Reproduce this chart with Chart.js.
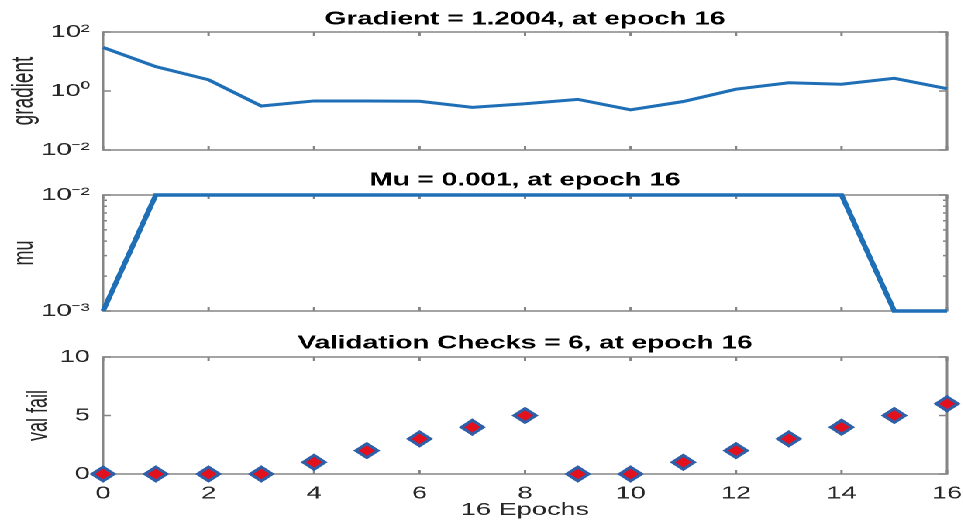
<!DOCTYPE html>
<html><head><meta charset="utf-8">
<script src="https://cdn.jsdelivr.net/npm/chart.js@4.4.1/dist/chart.umd.min.js"></script>
<style>
html,body{margin:0;padding:0;background:#fff;overflow:hidden;width:963px;height:531px;}
#stage{position:absolute;left:0;top:0;width:621.29px;height:531px;transform:scaleX(1.55);transform-origin:0 0;}
.box{position:absolute;left:0;width:621.29px;}
</style></head><body>
<div id="stage">
 <div class="box" style="top:0;height:170px"><canvas id="c1"></canvas></div>
 <div class="box" style="top:170px;height:160px"><canvas id="c2"></canvas></div>
 <div class="box" style="top:330px;height:201px"><canvas id="c3"></canvas></div>
</div>
<script>
// ---- data ----
const epochs = [0,1,2,3,4,5,6,7,8,9,10,11,12,13,14,15,16];
const gradient = [30, 6.7, 2.4, 0.31, 0.46, 0.46, 0.45, 0.28, 0.37, 0.52, 0.23, 0.44, 1.15, 1.9, 1.7, 2.7, 1.2004];
const mu = [0.001, 0.01, 0.01, 0.01, 0.01, 0.01, 0.01, 0.01, 0.01, 0.01, 0.01, 0.01, 0.01, 0.01, 0.01, 0.001, 0.001];
const valFail = [0,0,0,0,1,2,3,4,5,0,0,1,2,3,4,5,6];
const xTickValues = [0,2,4,6,8,10,12,14,16];
const gradientTicks = [0.01, 1, 100];
const muTicks = [0.001, 0.01];
const muMinorTicks = [0.002,0.003,0.004,0.005,0.006,0.007,0.008,0.009];
const valFailTicks = [0, 5, 10];
const titleGradient = 'Gradient = 1.2004, at epoch 16';
const titleMu = 'Mu = 0.001, at epoch 16';
const titleVal = 'Validation Checks = 6, at epoch 16';
const xTitle = '16 Epochs';

// ---- styling ----
const FAM = "'Liberation Sans', Arial, Helvetica, sans-serif";
const TXT = '#262626';
const BLUE = '#1f6fb6';
const PLOT_LEFT = 66.5;
const PAD_RIGHT = 10.3;

const SUP = {'0':'\u2070','1':'\u00B9','2':'\u00B2','3':'\u00B3','4':'\u2074','5':'\u2075','6':'\u2076','7':'\u2077','8':'\u2078','9':'\u2079','-':'\u207B'};
function supLabel(v){
  const e = String(Math.round(Math.log10(v)));
  return '10' + e.split('').map(c => SUP[c]).join('');
}
function pts(ys){ return epochs.map((e,i)=>({x:e, y:ys[i]})); }

const matlabBox = {
  id: 'matlabBox',
  beforeDatasetsDraw(chart, args, o) {
    const {ctx, chartArea: a} = chart;
    const x = chart.scales.x, y = chart.scales.y;
    ctx.save();
    ctx.strokeStyle = '#858585';
    ctx.lineWidth = 1.5;
    ctx.strokeRect(a.left, a.top, a.right - a.left, a.bottom - a.top);
    ctx.beginPath();
    for (const v of xTickValues) {
      const px = x.getPixelForValue(v);
      ctx.moveTo(px, a.top); ctx.lineTo(px, a.top + 4);
      ctx.moveTo(px, a.bottom); ctx.lineTo(px, a.bottom - 4);
    }
    for (const v of (o.yTicks || [])) {
      const py = y.getPixelForValue(v);
      ctx.moveTo(a.left, py); ctx.lineTo(a.left + 5, py);
      ctx.moveTo(a.right, py); ctx.lineTo(a.right - 5, py);
    }
    for (const v of (o.yMinor || [])) {
      const py = y.getPixelForValue(v);
      ctx.moveTo(a.left, py); ctx.lineTo(a.left + 2.5, py);
      ctx.moveTo(a.right, py); ctx.lineTo(a.right - 2.5, py);
    }
    ctx.stroke();
    ctx.restore();
  }
};

function yScale(base, ticks, labelFn, title, titlePad, titleSize) {
  return Object.assign({
    afterBuildTicks: s => { s.ticks = ticks.map(v => ({value: v})); },
    afterFit: s => { s.width = PLOT_LEFT; },
    grid: {display: false, drawTicks: false},
    border: {display: false},
    ticks: {padding: 8.5, color: TXT, autoSkip: false, font: {family: FAM, size: 17.5}, callback: labelFn},
    title: {display: true, text: title, color: TXT, font: {family: FAM, size: titleSize, lineHeight: 1.2}, padding: {top: titlePad, bottom: 0}}
  }, base);
}
function titleOpt(text, pt, pb) {
  return {display: true, text: text, fullSize: false, color: '#000',
    font: {family: FAM, size: 18, weight: 'bold', lineHeight: 1}, padding: {top: pt, bottom: pb}};
}
const common = {
  responsive: true, maintainAspectRatio: false, animation: false, devicePixelRatio: 2,
  events: []
};

new Chart(document.getElementById('c1'), {
  type: 'line',
  data: {datasets: [{data: pts(gradient), borderColor: BLUE, borderWidth: 3, pointRadius: 0, tension: 0, clip: false}]},
  options: Object.assign({}, common, {
    layout: {padding: {left: 0, right: PAD_RIGHT, top: 0, bottom: 20}},
    plugins: {legend: {display: false}, tooltip: {enabled: false},
      title: titleOpt(titleGradient, 10.3, 3.7),
      matlabBox: {yTicks: gradientTicks}},
    scales: {
      x: {type: 'linear', min: 0, max: 16, display: false},
      y: yScale({type: 'logarithmic', min: 0.01, max: 100}, gradientTicks, v => supLabel(v), 'gradient', 4.6, 19)
    }
  }),
  plugins: [matlabBox]
});

new Chart(document.getElementById('c2'), {
  type: 'line',
  data: {datasets: [{data: pts(mu), borderColor: BLUE, borderWidth: 3.5, pointRadius: 0, tension: 0, clip: false}]},
  options: Object.assign({}, common, {
    layout: {padding: {left: 0, right: PAD_RIGHT, top: 0, bottom: 19}},
    plugins: {legend: {display: false}, tooltip: {enabled: false},
      title: titleOpt(titleMu, 1.5, 5.5),
      matlabBox: {yTicks: muTicks, yMinor: muMinorTicks}},
    scales: {
      x: {type: 'linear', min: 0, max: 16, display: false},
      y: yScale({type: 'logarithmic', min: 0.001, max: 0.01}, muTicks, v => supLabel(v), 'mu', 5, 18)
    }
  }),
  plugins: [matlabBox]
});

new Chart(document.getElementById('c3'), {
  type: 'line',
  data: {datasets: [{data: pts(valFail), showLine: false, pointStyle: 'rectRot', pointRadius: 7,
    borderColor: '#2e5fa8', backgroundColor: '#e3101e', borderWidth: 2.5, clip: false}]},
  options: Object.assign({}, common, {
    layout: {padding: {left: 0, right: PAD_RIGHT, top: 0, bottom: 0}},
    plugins: {legend: {display: false}, tooltip: {enabled: false},
      title: titleOpt(titleVal, 4.5, 4.5),
      matlabBox: {yTicks: valFailTicks}},
    scales: {
      x: {type: 'linear', min: 0, max: 16,
        afterBuildTicks: s => { s.ticks = xTickValues.map(v => ({value: v})); },
        afterFit: s => { s.height = 57; s.paddingLeft = 0; s.paddingRight = 0; },
        grid: {display: false, drawTicks: false}, border: {display: false},
        ticks: {padding: 9.3, maxRotation: 0, autoSkip: false, color: TXT, font: {family: FAM, size: 17.5}},
        title: {display: true, text: xTitle, color: TXT, font: {family: FAM, size: 17.5, lineHeight: 1.2}, padding: {top: 0, bottom: 10.5}}
      },
      y: yScale({type: 'linear', min: 0, max: 10}, valFailTicks, v => String(v), 'val fail', 14, 18)
    }
  }),
  plugins: [matlabBox]
});
</script>
</body></html>
